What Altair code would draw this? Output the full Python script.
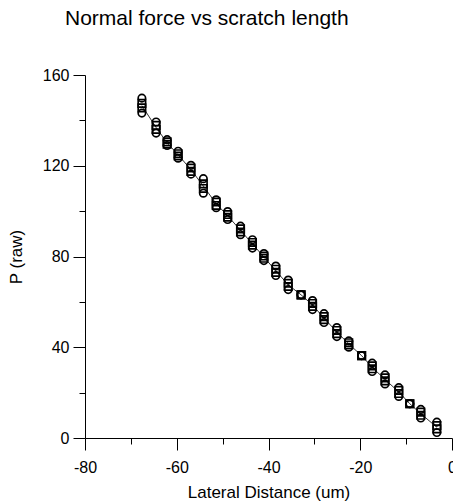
import altair as alt
import pandas as pd

# Lateral distance (um) of each scratch station
xs = [-67.6, -64.5, -62.1, -59.7, -56.9, -54.2, -51.4, -48.9, -46.1, -43.5,
      -41.0, -38.4, -35.7, -32.9, -30.4, -27.9, -25.1, -22.5, -19.7, -17.4,
      -14.6, -11.6, -9.2, -6.8, -3.3]
# P (raw) readings, circles (upper / lower) and squares (upper / lower)
circ_top = [149.8, 139.3, 131.5, 126.4, 120.2, 114.3, 105.0, 99.8, 93.4, 87.4,
            81.3, 75.8, 69.6, 63.1, 60.6, 54.8, 48.7, 42.8, 36.3, 33.0,
            27.8, 22.2, 15.1, 12.6, 7.0]
sq_upper = [147.5, 137.8, 130.5, 125.3, 119.0, 112.0, 104.0, 98.5, 92.2, 86.2,
            80.2, 74.4, 68.2, 63.1, 59.3, 53.5, 47.4, 42.0, 36.3, 31.8,
            26.5, 21.0, 15.1, 11.4, 5.5]
sq_lower = [145.5, 136.0, 129.5, 124.3, 117.5, 110.0, 102.5, 97.3, 90.8, 85.0,
            79.2, 73.0, 66.8, 63.1, 58.0, 52.2, 46.0, 41.0, 36.3, 30.5,
            25.2, 19.6, 15.1, 10.0, 4.0]
circ_bot = [143.2, 134.4, 128.9, 123.3, 116.3, 107.9, 101.5, 96.3, 89.6, 83.7,
            78.2, 71.6, 65.4, 63.1, 56.6, 50.9, 44.7, 40.0, 36.3, 29.3,
            23.8, 18.3, 15.1, 8.8, 2.4]

rows = []
for series, shape in [(circ_top, "circle"), (sq_upper, "square"),
                      (sq_lower, "square"), (circ_bot, "circle")]:
    for x, y in zip(xs, series):
        rows.append({"x": x, "y": y, "shape": shape})
df = pd.DataFrame(rows)

FONT = "Liberation Sans"

x_axis = alt.Axis(
    values=list(range(-80, 1, 10)),
    labelExpr="datum.value % 20 == 0 ? toString(datum.value) : ''",
    tickSize={"condition": {"test": "datum.value % 20 != 0", "value": 6}, "value": 12},
    title="Lateral Distance (um)",
    grid=False, domainColor="black", tickColor="black",
    labelColor="black", titleColor="black",
    labelFont=FONT, titleFont=FONT, labelFontSize=16, titleFontSize=17,
    titleFontWeight="normal", labelPadding=9, titlePadding=9,
    labelFlush=False, labelOverlap=False,
)
y_axis = alt.Axis(
    values=list(range(0, 161, 20)),
    labelExpr="datum.value % 40 == 0 ? toString(datum.value) : ''",
    tickSize={"condition": {"test": "datum.value % 40 != 0", "value": 6}, "value": 12},
    title="P (raw)",
    grid=False, domainColor="black", tickColor="black",
    labelColor="black", titleColor="black",
    labelFont=FONT, titleFont=FONT, labelFontSize=16, titleFontSize=17,
    titleFontWeight="normal", labelPadding=4, titlePadding=17,
    labelFlush=False, labelOverlap=False,
)

xs_scale = alt.Scale(domain=[-80, 0], nice=False, zero=False)
ys_scale = alt.Scale(domain=[0, 160], nice=False)

base = alt.Chart(df)

line = base.mark_line(color="black", strokeWidth=0.8).encode(
    x=alt.X("x:Q", scale=xs_scale, axis=x_axis),
    y=alt.Y("mean(y):Q", scale=ys_scale, axis=y_axis),
)

pts = base.mark_point(filled=False, color="black", strokeWidth=1.7, size=55, opacity=1).encode(
    x=alt.X("x:Q", scale=xs_scale),
    y=alt.Y("y:Q", scale=ys_scale),
    shape=alt.Shape("shape:N", scale=alt.Scale(domain=["circle", "square"],
                                                range=["circle", "square"]),
                    legend=None),
)

chart = alt.layer(line, pts).properties(
    width=367,
    height=363,
    autosize=alt.AutoSizeParams(type="none"),
    padding={"left": 85, "top": 75, "right": 1, "bottom": 66},
    title=alt.TitleParams(
        "Normal force vs scratch length",
        font=FONT, fontSize=21, fontWeight="normal", color="black",
        anchor="start", frame="group", dx=-20, offset=38,
    ),
).configure_view(stroke=None)

chart.save("out.html", embed_options={"renderer": "svg", "actions": False})
